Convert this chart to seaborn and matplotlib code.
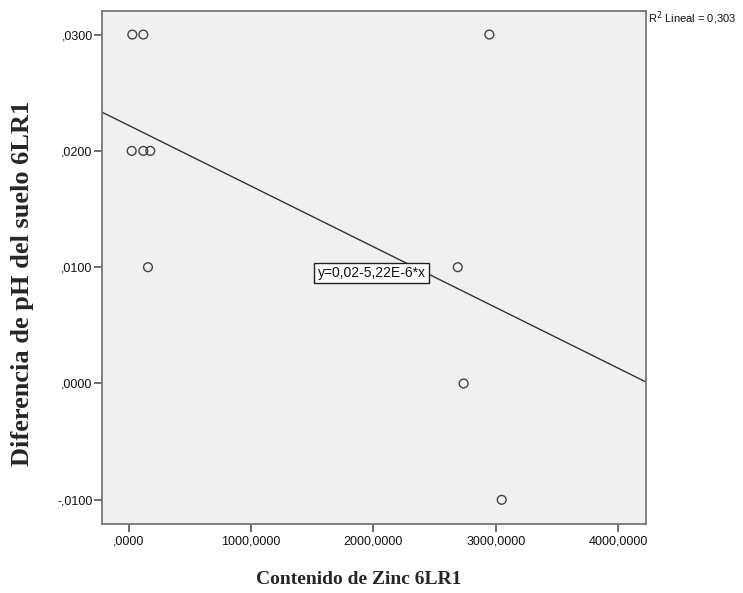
import matplotlib
matplotlib.use("Agg")
import matplotlib.pyplot as plt
import seaborn as sns
import pandas as pd
from matplotlib.ticker import FuncFormatter

# Data
zinc = [31, 121, 26, 121, 178, 159, 2948, 2690, 2738, 3049]
ph_diff = [0.030, 0.030, 0.020, 0.020, 0.020, 0.010, 0.030, 0.010, 0.000, -0.010]
fit_intercept = 0.0222
fit_slope = -5.22e-6
x_ticks = [0, 1000, 2000, 3000, 4000]
y_ticks = [-0.01, 0.0, 0.01, 0.02, 0.03]
eq_text = "y=0,02-5,22E-6*x"
r2_text = "R$^2$ Lineal = 0,303"
xlabel = "Contenido de Zinc 6LR1"
ylabel = "Diferencia de pH del suelo 6LR1"

sns.set_style("white")
plt.rcParams['font.family'] = ['Liberation Sans', 'DejaVu Sans']

W, H = 743, 593
fig = plt.figure(figsize=(W / 100, H / 100), dpi=100)
left, right, top, bottom = 101.7, 646, 10.5, 524
ax = fig.add_axes([left / W, 1 - bottom / H, (right - left) / W, (bottom - top) / H])
ax.set_facecolor("#F0F0F0")

xmin, xmax = -219, 4228
ymin, ymax = -0.01208, 0.03207
ax.set_xlim(xmin, xmax)
ax.set_ylim(ymin, ymax)

df = pd.DataFrame({"zinc": zinc, "ph": ph_diff})
line_df = pd.DataFrame({"x": [xmin, xmax]})
line_df["y"] = fit_intercept + fit_slope * line_df["x"]
sns.lineplot(data=line_df, x="x", y="y", ax=ax, color="#333333", linewidth=1.0)
sns.scatterplot(data=df, x="zinc", y="ph", ax=ax, s=40, facecolor="none",
                edgecolor="#444444", linewidth=1.0, zorder=3)

ax.set_xticks(x_ticks)
ax.set_yticks(y_ticks)
def xfmt(v, p):
    s = f"{v:.4f}".replace(".", ",")
    return s.lstrip("0") if abs(v) < 1 else s
def yfmt(v, p):
    s = f"{abs(v):.4f}".replace(".", ",").lstrip("0")
    return ("-" if v < -1e-12 else "") + s
ax.xaxis.set_major_formatter(FuncFormatter(xfmt))
ax.yaxis.set_major_formatter(FuncFormatter(yfmt))
ax.tick_params(axis="both", direction="out", length=5.5, width=1.2, color="#555555",
               labelsize=9, labelcolor="#111111", bottom=True, left=True)
ax.tick_params(axis="x", pad=3)
ax.tick_params(axis="y", pad=1)
for sp in ax.spines.values():
    sp.set_color("#777777")
    sp.set_linewidth(1.3)
ax.set_xlabel("")
ax.set_ylabel("")

ax.text(1989, 0.0095, eq_text, ha="center", va="center", fontsize=10, color="#111111",
        bbox=dict(boxstyle="square,pad=0.25", facecolor="white", edgecolor="#222222", linewidth=1.0),
        zorder=4)
fig.text(648 / W, 1 - 18 / H, r2_text, ha="left", va="center", fontsize=8, color="#111111")

fig.text(359 / W, 1 - 580 / H, xlabel, ha="center", va="center", fontsize=14,
         fontweight="bold", family=["Liberation Serif", "DejaVu Serif"])
fig.text(23 / W, 1 - 283 / H, ylabel, ha="center", va="center", rotation=90, fontsize=19,
         fontweight="bold", family=["Liberation Serif", "DejaVu Serif"])

fig.savefig("out.png", dpi=100)
